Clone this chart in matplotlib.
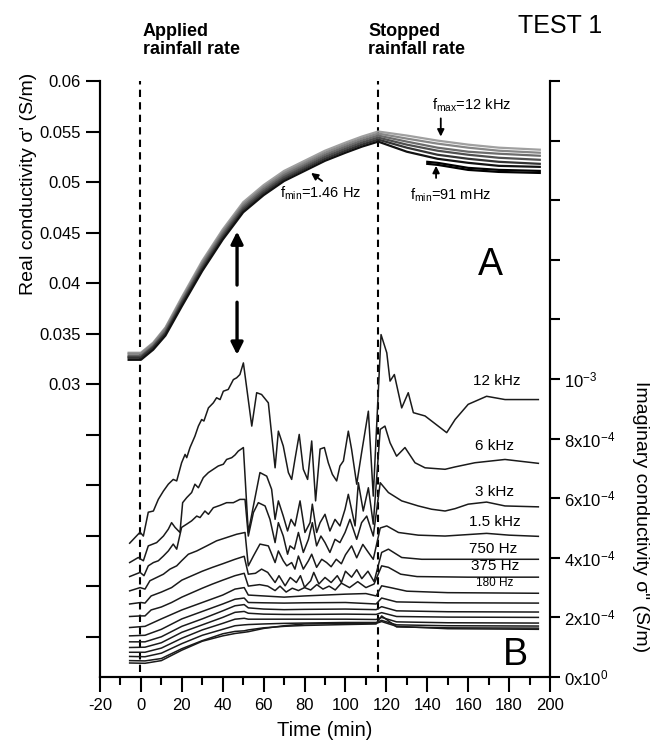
import numpy as np
import matplotlib
matplotlib.use('Agg')
import matplotlib.pyplot as plt

plt.rcParams['font.family'] = ['Liberation Sans', 'DejaVu Sans']
plt.rcParams['mathtext.default'] = 'regular'
plt.rcParams['axes.unicode_minus'] = False

W, H = 657, 742

# ---- panel A: real conductivity (S/m), bundle of spectra from f_max (top) to f_min (bottom)
t_re = [-6, 0, 6, 12, 20, 30, 40, 50, 60, 70, 80, 90, 100, 108, 116, 130, 145, 160, 175, 195]
re_1 = [0.0331, 0.0331, 0.0341, 0.0356, 0.0386, 0.0422, 0.0453, 0.0480, 0.0497, 0.0511,
        0.0521, 0.0531, 0.0539, 0.0545, 0.0550, 0.0546, 0.0541, 0.0537, 0.0534, 0.0532]
re_2 = [0.0330, 0.0330, 0.0340, 0.0355, 0.0384, 0.0420, 0.0451, 0.0478, 0.0495, 0.0509,
        0.0519, 0.0529, 0.0537, 0.0543, 0.0548, 0.0543, 0.0538, 0.0534, 0.0531, 0.0529]
re_3 = [0.0328, 0.0328, 0.0338, 0.0353, 0.0382, 0.0418, 0.0449, 0.0476, 0.0493, 0.0507,
        0.0517, 0.0527, 0.0535, 0.0541, 0.0546, 0.0540, 0.0534, 0.0530, 0.0528, 0.0526]
re_4 = [0.0327, 0.0327, 0.0337, 0.0351, 0.0381, 0.0416, 0.0447, 0.0474, 0.0491, 0.0505,
        0.0515, 0.0525, 0.0533, 0.0539, 0.0544, 0.0537, 0.0531, 0.0527, 0.0524, 0.0522]
re_5 = [0.0326, 0.0326, 0.0336, 0.0350, 0.0379, 0.0414, 0.0445, 0.0472, 0.0489, 0.0503,
        0.0513, 0.0523, 0.0531, 0.0537, 0.0542, 0.0534, 0.0527, 0.0523, 0.0520, 0.0518]
re_6 = [0.0324, 0.0324, 0.0334, 0.0348, 0.0377, 0.0412, 0.0443, 0.0470, 0.0487, 0.0501,
        0.0511, 0.0521, 0.0529, 0.0535, 0.0540, 0.0530, 0.0523, 0.0519, 0.0516, 0.0515]
# lowest frequencies (down to 91 mHz) only measured after ~140 min
t_re_low = [140, 145, 160, 175, 195]
re_low1 = [0.0520, 0.0519, 0.0514, 0.0512, 0.0511]
re_low2 = [0.0518, 0.0517, 0.0512, 0.0510, 0.0509]

# ---- panel B: imaginary conductivity (x1e-3 S/m)
t_12k = [-5.5, -0.4, 1.2, 3.6, 6.1, 8.5, 11, 13.4, 15.8, 17.5, 19.9, 21.6, 22.4, 24, 26.4, 28.1,
         29.7, 30.8, 33, 35.4, 37, 38.7, 40.3, 42.7, 45.2, 46.8, 48.4, 50.1, 54.2, 56.6, 59,
         62.3, 65.6, 67.2, 69.6, 72.1, 73.7, 75.3, 77.4, 79.4, 81.5, 83.5, 85.4, 87.6, 89.7,
         91.6, 93.6, 95.7, 97.3, 99, 101.4, 103, 105.5, 107.9, 111.2, 113.6, 117.4, 120.2,
         121.8, 123.9, 127.5, 130.7, 133.2, 138.9, 149.5, 153.6, 160, 169, 178, 194.3]
s_12k = [0.449, 0.486, 0.473, 0.553, 0.557, 0.596, 0.624, 0.647, 0.663, 0.658, 0.719, 0.747,
         0.736, 0.770, 0.808, 0.842, 0.864, 0.859, 0.903, 0.920, 0.937, 0.931, 0.959, 0.965,
         0.998, 1.004, 1.015, 1.054, 0.842, 0.954, 0.948, 0.920, 0.702, 0.825, 0.775, 0.686,
         0.663, 0.730, 0.814, 0.697, 0.663, 0.792, 0.591, 0.765, 0.770, 0.719, 0.680, 0.658,
         0.708, 0.725, 0.825, 0.764, 0.647, 0.753, 0.892, 0.607, 1.149, 1.088, 0.993, 1.015,
         0.903, 0.954, 0.887, 0.876, 0.820, 0.864, 0.915, 0.942, 0.931, 0.931]

t_6k = [-5.5, -1.3, 1.2, 3.6, 7.7, 11, 13.4, 15, 16.7, 19.1, 20.4, 22.4, 24.8, 26.4, 28.1, 30.5,
        33, 35.4, 37.8, 40.3, 41.9, 44.4, 46, 47.6, 50.1, 52.5, 55, 58.2, 61.5, 63.9, 65.6,
        67.2, 69.6, 71.7, 73.4, 75.3, 77.8, 80.2, 82.7, 83.8, 85.9, 87.6, 90, 92.4, 94.9,
        97.3, 99.8, 101.4, 104.7, 106.3, 108.7, 111.2, 113.6, 117, 119.3, 121.8, 125, 129.1,
        134, 138.9, 148.7, 153.6, 163.3, 178, 194.3]
s_6k = [0.384, 0.401, 0.390, 0.440, 0.451, 0.473, 0.496, 0.518, 0.502, 0.485, 0.585, 0.602,
        0.619, 0.647, 0.635, 0.669, 0.686, 0.697, 0.708, 0.714, 0.730, 0.736, 0.745, 0.758,
        0.770, 0.485, 0.574, 0.686, 0.674, 0.630, 0.529, 0.591, 0.540, 0.490, 0.529, 0.507,
        0.591, 0.485, 0.518, 0.580, 0.485, 0.518, 0.546, 0.490, 0.529, 0.507, 0.563, 0.613,
        0.507, 0.652, 0.557, 0.635, 0.513, 0.831, 0.842, 0.786, 0.741, 0.770, 0.719, 0.702,
        0.697, 0.705, 0.719, 0.730, 0.717]

t_3k = [-5.5, -0.4, 1.5, 3.6, 6.1, 8.5, 11, 13.4, 15.8, 17.5, 19.9, 22.4, 24.8, 27.3, 28.9,
        31.3, 33, 35.4, 38.7, 41.9, 45.2, 48.4, 50.9, 52.5, 55, 57.4, 60.7, 63.1, 65.6, 67.2,
        69.6, 71.7, 72.9, 75, 77, 79.4, 81.9, 83.8, 85.9, 88, 90, 92.4, 94.9, 97.3, 99.8,
        102.2, 105.5, 107.9, 110.4, 113.6, 117, 121, 127.5, 135.6, 142.1, 148.7, 153.6, 160,
        169, 178, 194.3]
s_3k = [0.337, 0.351, 0.340, 0.373, 0.384, 0.390, 0.406, 0.423, 0.446, 0.429, 0.502, 0.513,
        0.524, 0.540, 0.535, 0.557, 0.546, 0.568, 0.576, 0.585, 0.585, 0.596, 0.596, 0.473,
        0.552, 0.585, 0.574, 0.529, 0.451, 0.518, 0.473, 0.412, 0.440, 0.429, 0.485, 0.418,
        0.462, 0.518, 0.440, 0.473, 0.451, 0.418, 0.462, 0.451, 0.485, 0.529, 0.462, 0.518,
        0.540, 0.473, 0.652, 0.619, 0.591, 0.574, 0.563, 0.557, 0.565, 0.580, 0.587, 0.574,
        0.571]

t_1k5 = [-5.5, -0.4, 2, 4.4, 7.7, 11, 14.2, 17.5, 19.9, 23.2, 27.3, 32.2, 37, 41.9, 46.8, 50.9,
         52.5, 55, 58.2, 62.3, 65.6, 67.2, 69.6, 71.3, 73.7, 75.3, 77, 79.4, 81.9, 83.5, 85.9,
         88.4, 90.8, 93, 95.5, 98, 100, 103, 105.5, 108.5, 111, 113.6, 117, 120.2, 125.9,
         135.6, 148.7, 160, 169, 180, 194.3]
s_1k5 = [0.289, 0.300, 0.295, 0.323, 0.334, 0.345, 0.362, 0.373, 0.390, 0.412, 0.423, 0.440,
         0.457, 0.468, 0.479, 0.485, 0.373, 0.406, 0.446, 0.440, 0.384, 0.423, 0.390, 0.373,
         0.384, 0.362, 0.406, 0.362, 0.390, 0.412, 0.368, 0.395, 0.384, 0.370, 0.395, 0.380,
         0.410, 0.440, 0.400, 0.445, 0.420, 0.395, 0.500, 0.507, 0.485, 0.476, 0.473, 0.478,
         0.482, 0.476, 0.472]

t_750 = [-5.5, 0, 2, 5, 10, 15, 20, 25, 30, 35, 40, 46, 50.5, 52.5, 56, 59, 62, 65.6, 67.5, 70.5,
         73, 76, 78, 80, 83, 84.5, 87, 90, 93, 96, 98, 100, 103, 105.5, 108, 111, 114, 117.7,
         121, 127.5, 137.3, 160, 194.3]
s_750 = [0.245, 0.250, 0.248, 0.272, 0.285, 0.300, 0.325, 0.340, 0.355, 0.368, 0.380, 0.395,
         0.405, 0.345, 0.348, 0.362, 0.351, 0.317, 0.340, 0.306, 0.334, 0.317, 0.340, 0.301,
         0.323, 0.351, 0.312, 0.334, 0.317, 0.340, 0.317, 0.355, 0.335, 0.360, 0.330, 0.355,
         0.320, 0.418, 0.429, 0.401, 0.395, 0.395, 0.395]

t_375 = [-5.5, 0, 2, 5, 10, 15, 20, 25, 30, 35, 40, 46, 50.5, 52.5, 58, 62, 65.6, 68, 71, 74, 77,
         80, 83, 86, 89, 92, 95, 98, 102, 106, 110, 114, 117.7, 121, 127, 135, 160, 194.3]
s_375 = [0.203, 0.205, 0.205, 0.225, 0.235, 0.250, 0.268, 0.283, 0.298, 0.312, 0.325, 0.340,
         0.348, 0.305, 0.310, 0.305, 0.290, 0.305, 0.285, 0.298, 0.290, 0.300, 0.292, 0.310,
         0.295, 0.305, 0.292, 0.315, 0.300, 0.320, 0.300, 0.312, 0.373, 0.368, 0.345, 0.337,
         0.335, 0.335]

t_180 = [-5.5, 2, 10, 20, 30, 40, 46, 50.5, 52.5, 60, 70, 80, 90, 100, 110, 115, 117.7, 122, 130,
         150, 194.3]
s_180 = [0.166, 0.170, 0.195, 0.225, 0.250, 0.275, 0.295, 0.300, 0.275, 0.272, 0.268, 0.272,
         0.275, 0.278, 0.280, 0.272, 0.306, 0.300, 0.288, 0.283, 0.281]

# lower frequencies (unlabelled)
t_low = [-5.5, 2, 10, 20, 30, 40, 46, 50.5, 52.5, 60, 70, 80, 100, 115, 117.7, 125, 150, 194.3]
s_90 = [0.138, 0.140, 0.160, 0.195, 0.220, 0.245, 0.261, 0.265, 0.250, 0.249, 0.248, 0.249,
        0.250, 0.245, 0.265, 0.252, 0.249, 0.248]
s_45 = [0.118, 0.118, 0.135, 0.170, 0.195, 0.222, 0.239, 0.243, 0.232, 0.228, 0.226, 0.227,
        0.228, 0.226, 0.236, 0.222, 0.219, 0.218]
s_23 = [0.099, 0.100, 0.115, 0.150, 0.175, 0.200, 0.217, 0.220, 0.214, 0.211, 0.210, 0.210,
        0.211, 0.210, 0.216, 0.203, 0.201, 0.200]
s_11 = [0.083, 0.083, 0.097, 0.130, 0.158, 0.180, 0.194, 0.197, 0.194, 0.194, 0.194, 0.194,
        0.194, 0.193, 0.200, 0.185, 0.182, 0.181]
s_6 = [0.069, 0.068, 0.080, 0.112, 0.140, 0.160, 0.172, 0.175, 0.176, 0.178, 0.180, 0.181,
       0.183, 0.183, 0.190, 0.175, 0.172, 0.171]
s_3 = [0.055, 0.054, 0.062, 0.095, 0.122, 0.145, 0.153, 0.155, 0.158, 0.165, 0.170, 0.173,
       0.176, 0.178, 0.205, 0.168, 0.165, 0.164]
s_1 = [0.047, 0.046, 0.055, 0.090, 0.120, 0.138, 0.146, 0.150, 0.152, 0.163, 0.172, 0.178,
       0.180, 0.180, 0.186, 0.170, 0.162, 0.160]

freq_labels = ['12 kHz', '6 kHz', '3 kHz', '1.5 kHz', '750 Hz', '375 Hz', '180 Hz']

left_ticks = [0.005, 0.01, 0.015, 0.02, 0.025, 0.03, 0.035, 0.04, 0.045, 0.05, 0.055, 0.06]
left_labels = ['', '', '', '', '', '0.03', '0.035', '0.04', '0.045', '0.05', '0.055', '0.06']
right_ticks = [0, 2e-4, 4e-4, 6e-4, 8e-4, 1e-3, 1.2e-3, 1.4e-3, 1.6e-3, 1.8e-3, 2e-3]
right_labels = ['0x10$^0$', '2x10$^{-4}$', '4x10$^{-4}$', '6x10$^{-4}$', '8x10$^{-4}$',
                '10$^{-3}$', '', '', '', '', '']


def px(x, y):
    # pixel position (from top-left) -> figure fraction
    return x / W, 1 - y / H


fig = plt.figure(figsize=(W / 100, H / 100), dpi=100)
ax = fig.add_axes([100 / W, 1 - 677 / H, 450 / W, 596 / H])
ax2 = ax.twinx()

ax.set_xlim(-20, 200)
ax.set_ylim(0.001, 0.06)
ax2.set_ylim(0, 2e-3)

for a in (ax, ax2):
    a.spines['top'].set_visible(False)
    for s in ('left', 'right', 'bottom'):
        a.spines[s].set_linewidth(1.5)

ax.set_xticks(np.arange(-20, 201, 20))
ax.set_xticks(np.arange(-10, 200, 20), minor=True)
ax.set_yticks(left_ticks)
ax.set_yticklabels(left_labels)
ax2.set_yticks(right_ticks)
ax2.set_yticklabels(right_labels)

ax.tick_params(axis='x', which='major', direction='out', length=11, width=1.5, labelsize=12, pad=4)
ax.tick_params(axis='x', which='minor', direction='out', length=5.5, width=1.5)
ax.tick_params(axis='y', direction='out', length=10, width=1.5, labelsize=12, pad=4)
ax2.tick_params(axis='y', direction='out', length=7, width=1.5, labelsize=12, pad=3)

# rain on / rain off
dash = (0, (3.5, 2.5))
ax.axvline(-0.5, ymin=0.008, ymax=1, color='black', lw=1.5, ls=dash)
ax.axvline(116, ymin=0.008, ymax=1, color='black', lw=1.5, ls=dash)

# panel A bundle
re_rows = [re_1, re_2, re_3, re_4, re_5, re_6]
re_cols = ['#a0a0a0', '#878787', '#6c6c6c', '#4f4f4f', '#333333', '#111111']
for vals, c in zip(re_rows, re_cols):
    ax.plot(t_re, vals, color=c, lw=1.6)
for vals in (re_low1, re_low2):
    ax.plot(t_re_low, vals, color='black', lw=1.6)

# panel B curves
b_series = [(t_12k, s_12k), (t_6k, s_6k), (t_3k, s_3k), (t_1k5, s_1k5), (t_750, s_750),
            (t_375, s_375), (t_180, s_180)]
b_series += [(t_low, s) for s in (s_90, s_45, s_23, s_11, s_6, s_3, s_1)]
for t, s in b_series:
    ax2.plot(t, np.array(s) * 1e-3, color='#1a1a1a', lw=1.1)

# frequency labels
lab_t = [174, 173, 173, 173, 172, 173, 173]
lab_v = [0.992e-3, 0.774e-3, 0.620e-3, 0.519e-3, 0.429e-3, 0.372e-3, 0.315e-3]
lab_fs = [11, 11, 11, 11, 11, 11, 8.5]
for lab, tt, vv, fs in zip(freq_labels, lab_t, lab_v, lab_fs):
    ax2.text(tt, vv, lab, fontsize=fs, ha='center', va='center')

# double arrow between the two panels
ax.annotate('', xy=(47, 0.0451), xytext=(47, 0.0398),
            arrowprops=dict(arrowstyle='-|>', lw=2.4, color='black', mutation_scale=18, shrinkA=0, shrinkB=0))
ax.annotate('', xy=(47, 0.0329), xytext=(47, 0.0381),
            arrowprops=dict(arrowstyle='-|>', lw=2.4, color='black', mutation_scale=18, shrinkA=0, shrinkB=0))

# small arrows and labels in panel A
small = dict(arrowstyle='-|>', lw=1.3, color='black', mutation_scale=10, shrinkA=0, shrinkB=0)
ax.annotate('', xy=(83.2, 0.0509), xytext=(88.6, 0.0501), arrowprops=small)
ax.annotate('', xy=(146.6, 0.0545), xytext=(146.6, 0.0563), arrowprops=small)
ax.annotate('', xy=(144.3, 0.0516), xytext=(144.3, 0.0504), arrowprops=small)
fig.text(*px(280, 198), 'f$_{min}$=1.46 Hz', fontsize=10.5, ha='left', va='baseline')
fig.text(*px(432, 110), 'f$_{max}$=12 kHz', fontsize=10.5, ha='left', va='baseline')
fig.text(*px(410, 200), 'f$_{min}$=91 mHz', fontsize=10.5, ha='left', va='baseline')

# titles / panel letters
fig.text(*px(143, 23), 'Applied\nrainfall rate', fontsize=13, fontweight='bold',
         ha='left', va='top', linespacing=1.05)
fig.text(*px(368, 23), 'Stopped\nrainfall rate', fontsize=13, fontweight='bold',
         ha='left', va='top', linespacing=1.05)
fig.text(*px(518, 33), 'TEST 1', fontsize=18, ha='left', va='baseline')
fig.text(*px(478, 275), 'A', fontsize=27, ha='left', va='baseline')
fig.text(*px(503, 665), 'B', fontsize=27, ha='left', va='baseline')

# axis labels
fig.text(*px(29, 184), "Real conductivity σ' (S/m)", fontsize=14, rotation=90, ha='center', va='center')
fig.text(*px(640, 517), 'Imaginary conductivity σ" (S/m)', fontsize=14, rotation=270,
         ha='center', va='center')
fig.text(*px(325, 730), 'Time (min)', fontsize=14.5, ha='center', va='center')

fig.savefig('out.png', dpi=100)
